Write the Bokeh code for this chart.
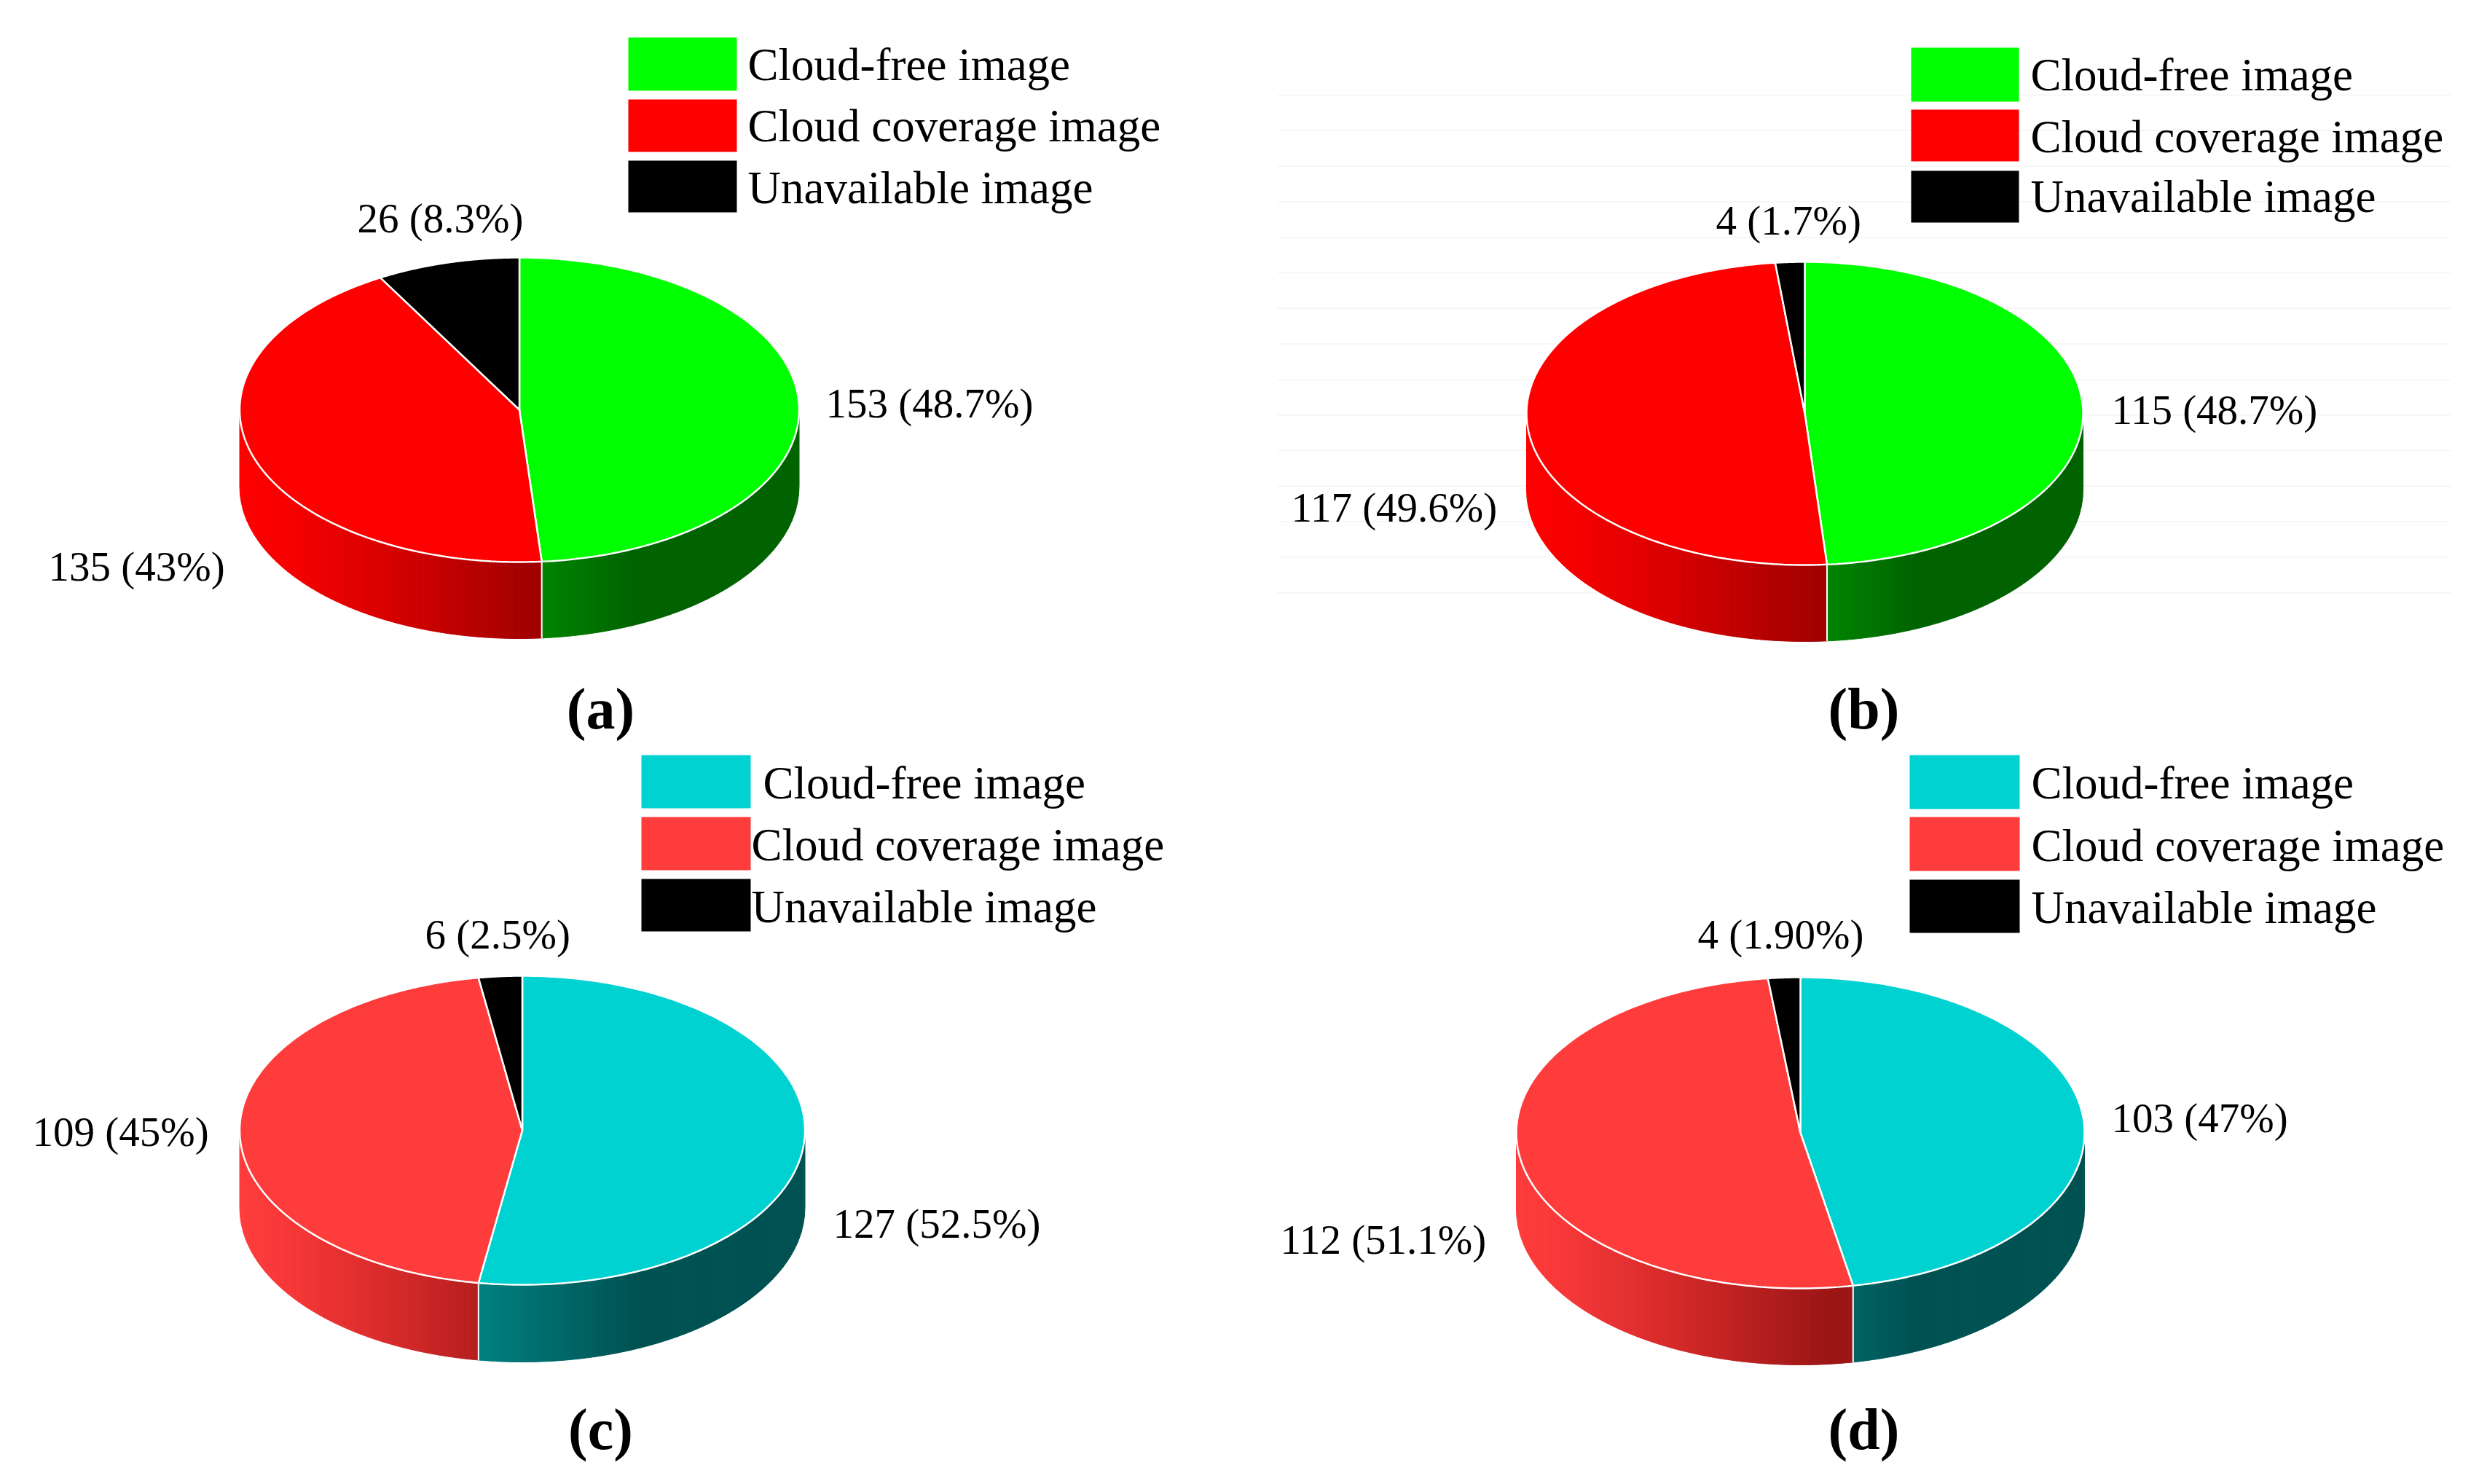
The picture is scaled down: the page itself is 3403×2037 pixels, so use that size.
import numpy as np
from bokeh.plotting import figure
from bokeh.models import Range1d
from bokeh.core.properties import value
from bokeh.embed import file_html
from bokeh.resources import INLINE

# ---------- data ----------
legend_labels = ["Cloud-free image", "Cloud coverage image", "Unavailable image"]
counts_a = [153, 135, 26]
counts_b = [115, 117, 4]
counts_c = [127, 109, 6]
counts_d = [103, 112, 4]
labels_a = ["153 (48.7%)", "135 (43%)", "26 (8.3%)"]
labels_b = ["115 (48.7%)", "117 (49.6%)", "4 (1.7%)"]
labels_c = ["127 (52.5%)", "109 (45%)", "6 (2.5%)"]
labels_d = ["103 (47%)", "112 (51.1%)", "4 (1.90%)"]
captions = ["(a)", "(b)", "(c)", "(d)"]

# ---------- styles / layout ----------
GREEN, RED, BLACK = (0, 255, 0), (255, 0, 0), (0, 0, 0)
TEAL, CORAL = (0, 209, 209), (255, 60, 60)
FONT = value("Liberation Serif")

panels = [
    dict(counts=counts_a, labels=labels_a, cols=[GREEN, RED, BLACK], caption=captions[0], cap=(824, 972),
         cx=712.5, cy=562, rx=384, ry=209, depth=105,
         lab=[(1133, 553), (66, 777), (490, 299)],
         box=(862, 1011), rows=[(51, 124), (136, 208), (220, 291)],
         tx=[1026, 1026, 1026], ty=[88, 172, 257]),
    dict(counts=counts_b, labels=labels_b, cols=[GREEN, RED, BLACK], caption=captions[1], cap=(2558, 972),
         cx=2477, cy=567, rx=382, ry=208, depth=105,
         lab=[(2898, 562), (1772, 696), (2355, 302)],
         box=(2623, 2771), rows=[(65, 139), (150, 221), (234, 305)],
         tx=[2787, 2787, 2787], ty=[102, 187, 269]),
    dict(counts=counts_c, labels=labels_c, cols=[TEAL, CORAL, BLACK], caption=captions[2], cap=(824, 1961),
         cx=716.5, cy=1551, rx=388, ry=212, depth=106,
         lab=[(1143, 1679), (44, 1553), (583, 1282)],
         box=(880, 1030), rows=[(1036, 1109), (1121, 1194), (1206, 1278)],
         tx=[1047, 1031, 1031], ty=[1074, 1159, 1244]),
    dict(counts=counts_d, labels=labels_d, cols=[TEAL, CORAL, BLACK], caption=captions[3], cap=(2558, 1961),
         cx=2471, cy=1554.5, rx=390, ry=213.5, depth=105,
         lab=[(2898, 1534), (1757, 1701), (2330, 1282)],
         box=(2621, 2772), rows=[(1036, 1110), (1121, 1195), (1207, 1280)],
         tx=[2788, 2788, 2788], ty=[1074, 1160, 1245]),
]
# shading of the side wall along the pie's width (0 = left edge, 1 = right edge)
WARM_T, WARM_S = [0, .08, .27, .55, 1], [1, .97, .84, .61, .61]
COOL_T, COOL_S = [0, .40, .70, 1], [.63, .63, .39, .39]

p = figure(width=3387, height=2021, x_range=Range1d(0, 3387), y_range=Range1d(2021, 0),
           output_backend="svg", toolbar_location=None, min_border=0)
p.axis.visible = False
p.grid.visible = False
p.outline_line_color = None
p.background_fill_color = "white"

# faint rules behind panel (b)
rule_y = 130 + 48.8 * np.arange(15)
p.segment(x0=[1753] * 15, x1=[3364] * 15, y0=list(rule_y), y1=list(rule_y), line_color="#f4f4f4", line_width=1.5)


def hexc(c):
    return "#%02x%02x%02x" % tuple(int(round(v)) for v in c)


def shade(col, s):
    # the primary channel scales with s; secondary (tint) channels fall off faster on warm colours
    if col[0] > 0:
        return (col[0] * s, col[1] * s * s, col[2] * s * s)
    return (col[0] * s, col[1] * s, col[2] * s)


def draw(pan):
    cx, cy, rx, ry, d = pan["cx"], pan["cy"], pan["rx"], pan["ry"], pan["depth"]
    counts = np.array(pan["counts"], float)
    edges = np.concatenate([[0], np.cumsum(counts) / counts.sum()]) * 2 * np.pi  # clockwise from top

    def ex(th):
        return cx + rx * np.sin(th)

    def ey(th):
        return cy - ry * np.cos(th)

    # side wall: front half only, cut in narrow vertical strips so that the shade follows x
    xs, ys, fc = [], [], []
    for i, col in enumerate(pan["cols"]):
        a0, a1 = max(edges[i], np.pi / 2), min(edges[i + 1], 3 * np.pi / 2)
        if a1 <= a0:
            continue
        warm = col[0] > 0
        T, S = (WARM_T, WARM_S) if warm else (COOL_T, COOL_S)
        x_hi, x_lo = ex(a0), ex(a1)
        n = max(2, int((x_hi - x_lo) / 5))
        ths = np.pi - np.arcsin(np.clip((np.linspace(x_hi, x_lo, n + 1) - cx) / rx, -1, 1))
        ths[0], ths[-1] = a0, a1
        for j in range(n):
            t = np.linspace(ths[j], ths[j + 1], 4)
            px, py = ex(t), ey(t)
            xs.append(list(px) + list(px[::-1]))
            ys.append(list(py) + list((py + d)[::-1]))
            tm = (px.mean() - (cx - rx)) / (2 * rx)
            fc.append(hexc(shade(col, np.interp(tm, T, S))))
    p.patches(xs, ys, fill_color=fc, line_color=fc, line_width=1)

    # white seams on the wall where slices meet
    for e in edges[1:-1]:
        if np.pi / 2 < e < 3 * np.pi / 2:
            p.line([ex(e), ex(e)], [ey(e), ey(e) + d], line_color="white", line_width=2)

    # top face
    tx, ty, tc = [], [], []
    for i, col in enumerate(pan["cols"]):
        t = np.linspace(edges[i], edges[i + 1], 180)
        tx.append([cx] + list(ex(t)))
        ty.append([cy] + list(ey(t)))
        tc.append(hexc(col))
    p.patches(tx, ty, fill_color=tc, line_color="white", line_width=2.5)

    # value labels
    p.text(x=[q[0] for q in pan["lab"]], y=[q[1] for q in pan["lab"]], text=pan["labels"],
           text_font=FONT, text_font_size=value("57px"), text_color="black",
           text_align="left", text_baseline="middle")

    # legend
    b0, b1 = pan["box"]
    p.quad(left=[b0] * 3, right=[b1] * 3, top=[r[0] for r in pan["rows"]], bottom=[r[1] for r in pan["rows"]],
           fill_color=[hexc(c) for c in pan["cols"]], line_color=None)
    p.text(x=pan["tx"], y=pan["ty"], text=legend_labels,
           text_font=FONT, text_font_size=value("63px"), text_color="black",
           text_align="left", text_baseline="middle")

    # caption
    p.text(x=[pan["cap"][0]], y=[pan["cap"][1]], text=[pan["caption"]],
           text_font=FONT, text_font_size=value("80px"), text_font_style="bold", text_color="black",
           text_align="center", text_baseline="middle")


for pan in panels:
    draw(pan)

open("out.html", "w").write(file_html(p, INLINE))
